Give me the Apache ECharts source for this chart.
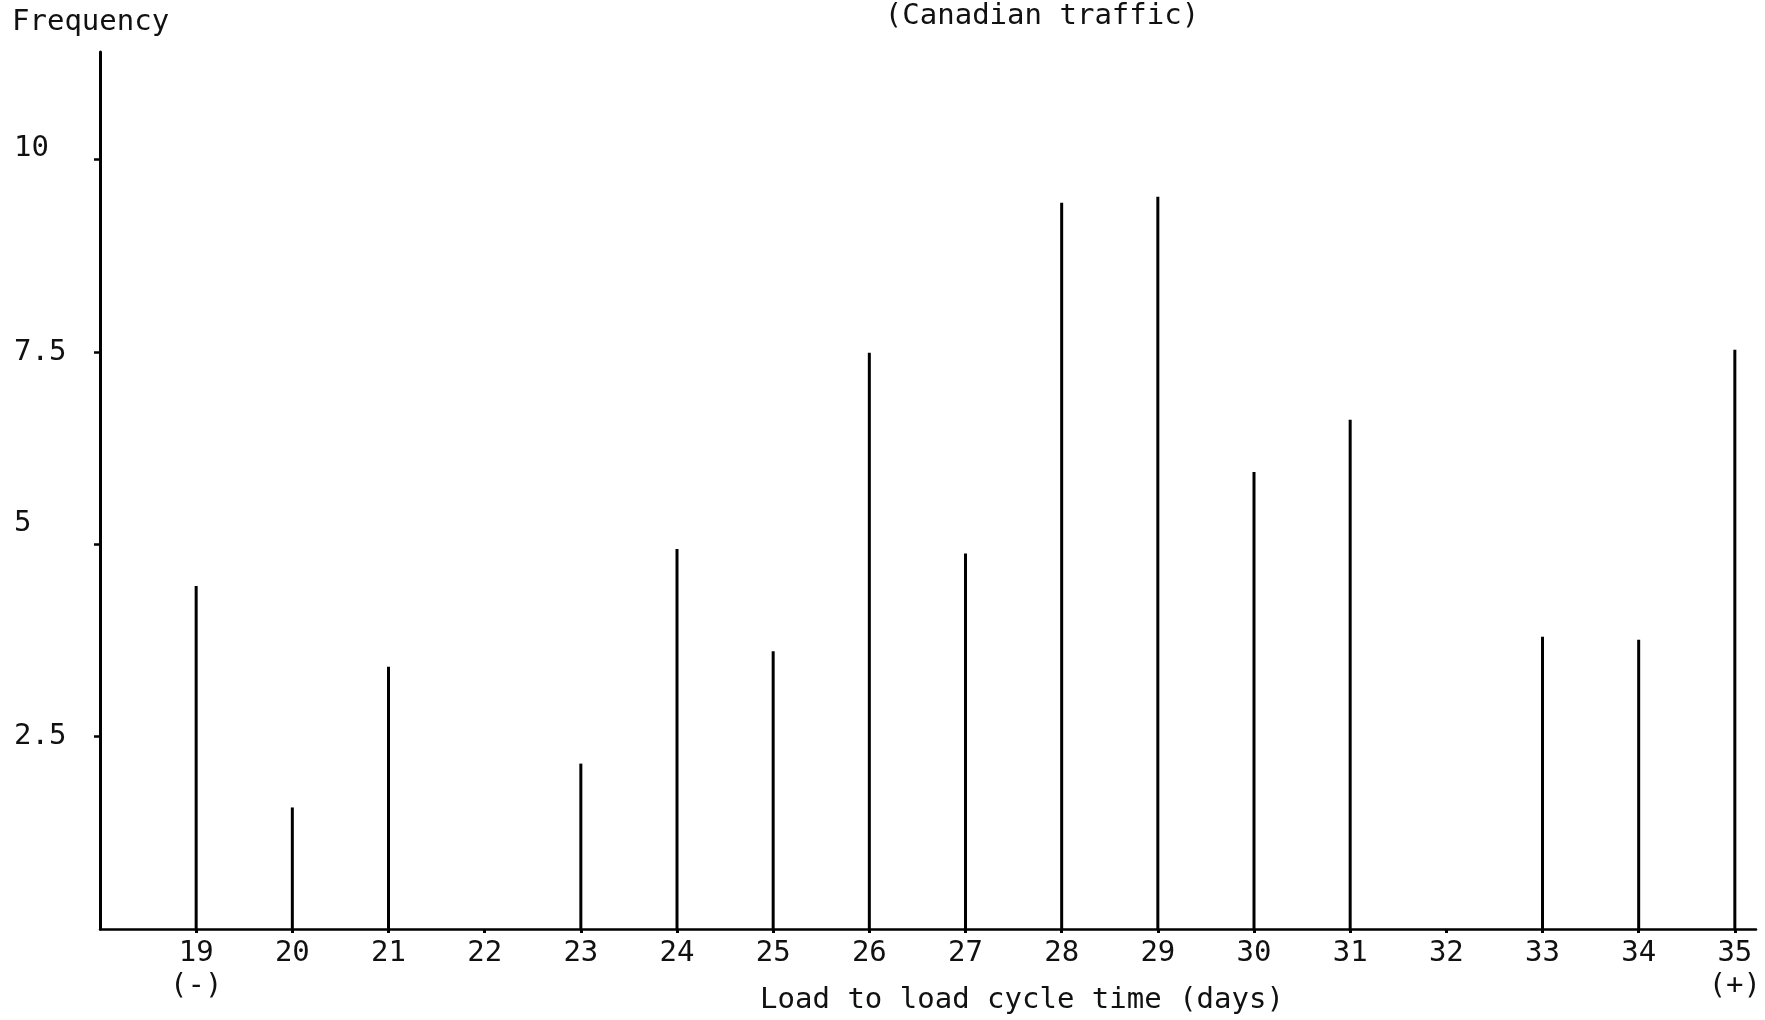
<!DOCTYPE html>
<html>
<head>
<meta charset="utf-8">
<script src="https://cdn.jsdelivr.net/npm/echarts@6/dist/echarts.min.js"></script>
<style>
html,body{margin:0;padding:0;background:#fff;}
#chart{width:1765px;height:1020px;}
</style>
</head>
<body>
<div id="chart"></div>
<script>
// Data
const days = [19, 20, 21, 22, 23, 24, 25, 26, 27, 28, 29, 30, 31, 32, 33, 34, 35];
const frequency = [4.46, 1.58, 3.41, 0, 2.15, 4.94, 3.61, 7.49, 4.88, 9.44, 9.52, 5.94, 6.62, 0, 3.80, 3.76, 7.53];
const yTicks = [2.5, 5, 7.5, 10];
const xEndLabels = { 19: '(-)', 35: '(+)' };
const titleText = '(Canadian traffic)';
const yName = 'Frequency';
const xName = 'Load to load cycle time (days)';

const FONT = '"DejaVu Sans Mono", "Liberation Mono", monospace';
const FS = 29;
const chart = echarts.init(document.getElementById('chart'), null, { renderer: 'canvas' });

const option = {
  backgroundColor: '#ffffff',
  animation: false,
  grid: { left: 100, right: 9, top: 52, bottom: 91, containLabel: false },
  xAxis: {
    type: 'value',
    min: 18,
    max: 35.22,
    interval: 1,
    splitLine: { show: false },
    axisLine: { show: true, onZero: false, lineStyle: { color: '#000', width: 2.5 } },
    axisTick: { show: true, customValues: days, length: 4, lineStyle: { color: '#000', width: 3 } },
    axisLabel: {
      customValues: days,
      margin: 8,
      color: '#111',
      fontFamily: FONT,
      fontSize: FS,
      lineHeight: 33,
      formatter: function (v) {
        const s = String(v);
        return xEndLabels[v] ? s + '\n' + xEndLabels[v] : s;
      }
    }
  },
  yAxis: {
    type: 'value',
    min: 0,
    max: 11.4,
    interval: 2.5,
    splitLine: { show: false },
    axisLine: { show: true, lineStyle: { color: '#000', width: 3 } },
    axisTick: { show: true, customValues: yTicks, length: 6, lineStyle: { color: '#000', width: 2.5 } },
    axisLabel: {
      customValues: yTicks,
      margin: 86,
      align: 'left',
      color: '#111',
      fontFamily: FONT,
      fontSize: FS,
      formatter: function (v) {
        if (v === 10) return '{a|' + v + '}';
        if (v === 5) return '{b|' + v + '}';
        return String(v);
      },
      rich: {
        a: { fontFamily: FONT, fontSize: FS, color: '#111', padding: [0, 0, 22, 0] },
        b: { fontFamily: FONT, fontSize: FS, color: '#111', padding: [0, 0, 42, 0] }
      }
    }
  },
  series: [{
    type: 'bar',
    barWidth: 3,
    itemStyle: { color: '#000' },
    data: days.map((d, i) => [d, frequency[i]])
  }],
  graphic: [
    { type: 'text', left: 12, top: 8, style: { text: yName, font: FS + 'px ' + FONT, fill: '#111' } },
    { type: 'text', x: 1042, y: 16, style: { text: titleText, font: FS + 'px ' + FONT, fill: '#111', align: 'center', verticalAlign: 'middle' } },
    { type: 'text', x: 1022, y: 1000, style: { text: xName, font: FS + 'px ' + FONT, fill: '#111', align: 'center', verticalAlign: 'middle' } }
  ]
};
chart.setOption(option);
</script>
</body>
</html>
